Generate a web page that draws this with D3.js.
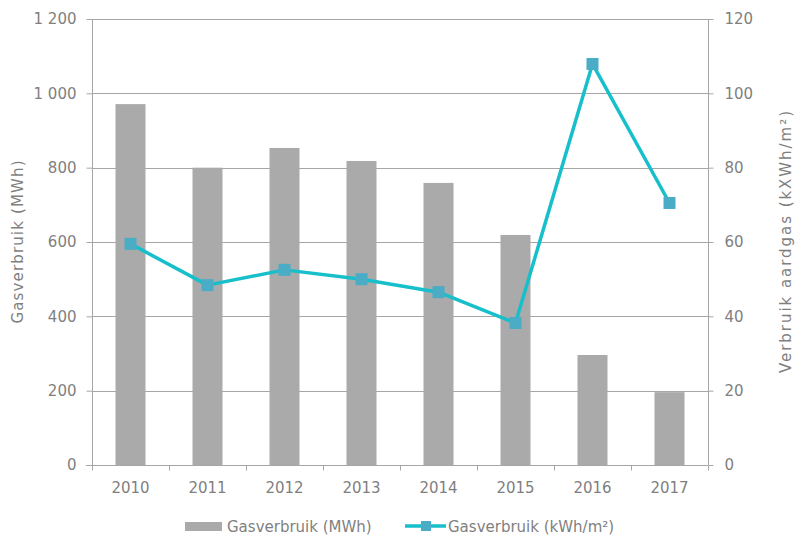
<!DOCTYPE html>
<html>
<head>
<meta charset="utf-8">
<script src="https://cdn.jsdelivr.net/npm/d3@7"></script>
<style>
  body { margin: 0; background: #fff; }
  svg text { font-family: "DejaVu Sans", Verdana, sans-serif; fill: #7f7f7f; }
</style>
</head>
<body>
<svg id="chart" width="798" height="541"></svg>
<script>
// data
var years = ['2010', '2011', '2012', '2013', '2014', '2015', '2016', '2017'];
var gasMWh = [971, 800, 853, 818, 759, 619, 296, 196];
var gasKWhM2 = [59.5, 48.4, 52.5, 50, 46.5, 38.2, 107.9, 70.5];
var leftTicks = [0, 200, 400, 600, 800, 1000, 1200];
var rightTicks = [0, 20, 40, 60, 80, 100, 120];

var svg = d3.select('#chart'),
  plotLeft = 92,
  plotRight = 708,
  plotTop = 19,
  plotBottom = 465,
  grey = '#a6a6a6';

var x = d3.scaleBand()
  .domain(years)
  .range([plotLeft, plotRight]);

var yL = d3.scaleLinear().domain([0, 1200]).range([plotBottom, plotTop]);
var yR = d3.scaleLinear().domain([0, 120]).range([plotBottom, plotTop]);

// gridlines
svg.append('g')
  .selectAll('line')
  .data(leftTicks.slice(1))
  .enter()
  .append('line')
  .attr('x1', plotLeft).attr('x2', plotRight)
  .attr('y1', function(d) { return Math.round(yL(d)) + 0.5; })
  .attr('y2', function(d) { return Math.round(yL(d)) + 0.5; })
  .attr('stroke', grey);

// bars
var barW = 30;
svg.append('g')
  .selectAll('rect')
  .data(gasMWh)
  .enter()
  .append('rect')
  .attr('x', function(d, i) { return x(years[i]) + x.bandwidth() / 2 - barW / 2; })
  .attr('y', function(d) { return yL(d); })
  .attr('width', barW)
  .attr('height', function(d) { return plotBottom - yL(d); })
  .attr('fill', '#aaaaaa');

// left axis
var axL = svg.append('g')
  .attr('transform', 'translate(' + (plotLeft + 0.5) + ',0)')
  .call(d3.axisLeft(yL).tickValues(leftTicks).tickSize(6).tickPadding(10)
    .tickFormat(function(d) { return d3.format(',')(d).replace(',', ' '); }));

// right axis
var axR = svg.append('g')
  .attr('transform', 'translate(' + (plotRight + 0.5) + ',0)')
  .call(d3.axisRight(yR).tickValues(rightTicks).tickSize(5).tickPadding(11));

// x axis, ticks between categories
var axX = svg.append('g')
  .attr('transform', 'translate(0,' + (plotBottom + 0.5) + ')')
  .call(d3.axisBottom(x).tickSize(0).tickPadding(17));

axX.selectAll('.sep')
  .data(years.concat(['end']))
  .enter()
  .append('line')
  .attr('class', 'sep')
  .attr('x1', function(d, i) { return Math.round(plotLeft + i * x.bandwidth()) + 0.5; })
  .attr('x2', function(d, i) { return Math.round(plotLeft + i * x.bandwidth()) + 0.5; })
  .attr('y1', 0).attr('y2', 5)
  .attr('stroke', grey);

[axL, axR, axX].forEach(function(a) {
  a.selectAll('.domain').attr('stroke', grey).attr('stroke-width', 1);
  a.selectAll('.tick line').attr('stroke', grey);
  a.selectAll('text').style('font-size', '15px').attr('fill', '#7f7f7f');
});
axL.select('.domain').attr('d', 'M0,' + plotTop + 'V' + plotBottom);
axR.select('.domain').attr('d', 'M0,' + plotTop + 'V' + plotBottom);
axX.select('.domain').attr('d', 'M' + (plotLeft - 6) + ',0H' + plotRight);

// line series
var line = d3.line()
  .x(function(d, i) { return x(years[i]) + x.bandwidth() / 2; })
  .y(function(d) { return yR(d); });

svg.append('path')
  .datum(gasKWhM2)
  .attr('d', line)
  .attr('fill', 'none')
  .attr('stroke', '#17bfcb')
  .attr('stroke-width', 3.5)
  .attr('stroke-linejoin', 'round');

svg.append('g')
  .selectAll('rect')
  .data(gasKWhM2)
  .enter()
  .append('rect')
  .attr('x', function(d, i) { return x(years[i]) + x.bandwidth() / 2 - 6; })
  .attr('y', function(d) { return yR(d) - 6; })
  .attr('width', 12)
  .attr('height', 12)
  .attr('fill', '#4bacc6');

// axis titles
svg.append('text')
  .attr('transform', 'translate(23,' + ((plotTop + plotBottom) / 2) + ') rotate(-90)')
  .attr('text-anchor', 'middle')
  .attr('textLength', 163)
  .attr('lengthAdjust', 'spacing')
  .style('font-size', '15px')
  .text('Gasverbruik (MWh)');

svg.append('text')
  .attr('transform', 'translate(791,' + ((plotTop + plotBottom) / 2) + ') rotate(-90)')
  .attr('text-anchor', 'middle')
  .attr('textLength', 262)
  .attr('lengthAdjust', 'spacing')
  .style('font-size', '15px')
  .text('Verbruik aardgas (kXWh/m²)');

// legend
var lg = svg.append('g').attr('transform', 'translate(0,526)');
lg.append('rect')
  .attr('x', 185).attr('y', -4).attr('width', 37).attr('height', 9)
  .attr('fill', '#aaaaaa');
lg.append('text')
  .attr('x', 227).attr('y', 6)
  .style('font-size', '15px')
  .text('Gasverbruik (MWh)');
lg.append('line')
  .attr('x1', 405).attr('x2', 446).attr('y1', 0).attr('y2', 0)
  .attr('stroke', '#17bfcb').attr('stroke-width', 3.5);
lg.append('rect')
  .attr('x', 421).attr('y', -5).attr('width', 10).attr('height', 10)
  .attr('fill', '#4bacc6');
lg.append('text')
  .attr('x', 448).attr('y', 6)
  .style('font-size', '15px')
  .text('Gasverbruik (kWh/m²)');
</script>
</body>
</html>
